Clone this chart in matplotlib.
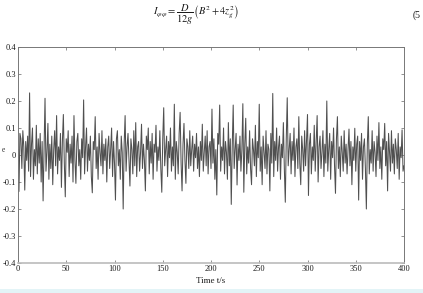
import matplotlib
matplotlib.use("Agg")
import matplotlib.pyplot as plt
import numpy as np

plt.rcParams['font.family'] = ['Liberation Serif', 'DejaVu Serif']
plt.rcParams['mathtext.fontset'] = 'stix'
plt.rcParams['axes.unicode_minus'] = False

# time in seconds, 1 s step
time_s = list(range(0, 401))
response = [
    0.02, -0.135, 0.08, 0.06, -0.05, 0.09, 0.03, -0.13, 0.05, -0.02,
    0.07, -0.06, 0.23, -0.08, 0.04, 0.10, -0.09, 0.02, -0.04, 0.11,
    -0.07, 0.06, -0.03, 0.08, -0.10, 0.05, -0.17, 0.03, 0.21, -0.06,
    0.01, 0.117, -0.09, 0.04, -0.05, 0.07, -0.11, 0.02, 0.09, -0.04,
    0.146, -0.07, 0.03, -0.02, 0.08, -0.12, 0.05, 0.15, -0.03, -0.155,
    0.06, 0.01, 0.09, -0.08, 0.04, -0.03, 0.07, -0.10, 0.146, -0.02,
    -0.105, 0.05, 0.08, -0.04, 0.02, -0.09, 0.06, -0.01, 0.204, -0.07,
    0.03, 0.10, -0.06, 0.04, -0.02, 0.07, -0.08, -0.14, 0.05, 0.02,
    0.142, -0.05, 0.03, -0.09, 0.08, 0.01, -0.04, 0.09, -0.07, 0.04,
    -0.02, 0.06, -0.10, 0.03, 0.07, -0.05, 0.02, 0.10, -0.08, 0.05,
    -0.03, -0.167, 0.06, 0.09, -0.04, 0.02, -0.09, 0.07, 0.01, -0.20,
    0.04, 0.146, -0.06, 0.03, 0.08, -0.02, -0.115, 0.06, 0.02, -0.07,
    0.09, -0.04, 0.12, -0.08, 0.03, 0.05, -0.06, 0.01, 0.114, -0.05,
    0.04, -0.02, -0.133, 0.07, 0.02, 0.10, -0.07, 0.05, -0.03, 0.08,
    -0.09, 0.04, 0.01, 0.11, -0.06, 0.03, -0.02, 0.09, -0.05, -0.138,
    0.06, 0.175, -0.04, 0.02, 0.07, -0.08, 0.05, -0.01, 0.10, -0.06,
    0.03, -0.04, 0.188, -0.09, 0.05, 0.01, -0.07, 0.08, 0.158, -0.03,
    -0.133, 0.04, 0.117, -0.02, -0.105, 0.06, 0.03, -0.05, 0.09, -0.04,
    0.02, 0.07, -0.06, 0.04, -0.01, 0.08, -0.05, 0.03, -0.08, 0.05,
    -0.02, 0.114, -0.06, 0.01, 0.07, -0.04, 0.09, -0.07, 0.03, 0.05,
    -0.05, 0.17, -0.03, 0.06, -0.09, 0.02, -0.148, 0.08, 0.04, 0.185,
    -0.06, 0.03, -0.02, 0.10, -0.07, 0.05, 0.01, -0.09, 0.12, -0.04,
    0.06, -0.183, 0.03, 0.185, -0.05, 0.02, 0.08, -0.111, 0.04, -0.02,
    0.07, -0.06, 0.02, 0.19, -0.138, 0.04, 0.136, -0.07, 0.03, -0.03,
    0.09, -0.05, -0.11, 0.06, 0.02, -0.04, 0.11, -0.08, 0.05, -0.01,
    0.188, -0.06, 0.03, -0.11, 0.07, 0.01, -0.05, 0.09, -0.07, 0.04,
    0.02, -0.133, 0.08, -0.03, 0.228, -0.08, 0.05, -0.02, 0.10, -0.06,
    0.03, 0.07, -0.09, 0.04, -0.01, 0.12, -0.05, -0.175, 0.06, 0.212,
    -0.04, 0.02, 0.08, -0.07, 0.05, -0.02, 0.10, -0.08, 0.03, 0.06,
    -0.05, 0.142, -0.03, -0.11, 0.07, 0.02, -0.06, 0.09, -0.04, 0.05,
    0.15, -0.15, 0.04, 0.08, -0.07, 0.03, -0.02, 0.11, -0.06, 0.05,
    0.146, -0.10, 0.03, 0.07, -0.05, 0.01, 0.09, -0.08, 0.04, -0.03,
    0.20, -0.06, 0.02, 0.08, -0.09, 0.05, -0.01, 0.10, -0.04, -0.142,
    0.06, 0.142, -0.05, 0.03, -0.08, 0.07, 0.01, -0.06, 0.09, -0.03,
    0.04, -0.07, 0.02, 0.096, -0.04, 0.05, -0.11, 0.03, -0.02, 0.099,
    -0.06, 0.04, 0.07, -0.167, 0.05, -0.02, 0.08, -0.09, 0.03, 0.06,
    -0.05, -0.20, 0.04, 0.142, -0.07, 0.02, -0.03, 0.09, -0.06, 0.05,
    0.01, -0.08, 0.07, -0.02, 0.12, -0.05, 0.03, -0.09, 0.06, 0.02,
    0.117, -0.04, 0.05, -0.133, 0.08, 0.01, -0.06, 0.09, -0.03, 0.04,
    -0.07, 0.06, 0.02, -0.05, 0.08, -0.09, 0.03, -0.01, 0.093, -0.06,
    -0.04,
]
x_ticks = [0, 50, 100, 150, 200, 250, 300, 350, 400]
y_ticks = [-0.4, -0.3, -0.2, -0.1, 0, 0.1, 0.2, 0.3, 0.4]
y_tick_labels = ['-0.4', '-0.3', '-0.2', '-0.1', '0', '0.1', '0.2', '0.3', '0.4']
x_label = 'Time t/s'

fig = plt.figure(figsize=(4.23, 2.93), dpi=100)
ax = fig.add_axes([18/423, 30/293, (404-18)/423, (263-47)/293])
ax.plot(time_s, response, color='#505050', lw=0.75)
ax.set_xlim(0, 400)
ax.set_ylim(-0.4, 0.4)
ax.set_xticks(x_ticks)
ax.set_xticklabels([str(v) for v in x_ticks])
ax.set_yticks(y_ticks)
ax.set_yticklabels(y_tick_labels)
ax.tick_params(direction='in', length=2.5, width=0.5, labelsize=6, pad=1.5,
               top=True, right=True, colors='#666666', labelcolor='#1a1a1a')
for s in ax.spines.values():
    s.set_color('#777777')
    s.set_linewidth(0.7)
ax.spines['bottom'].set_color('#bbbbbb')
ax.spines['bottom'].set_linewidth(1.2)
ax.set_xlabel(x_label, fontsize=6.5, labelpad=2.5, color='#1a1a1a')

fig.text(2/423, 1-150/293, 'e', fontsize=5.5, ha='left', va='center', color='#333333')

fig.text(196/423, 1-15/293,
         r'$I_{\varphi\varphi} = \dfrac{D}{12g}\left(B^2 + 4z_g^2\right)$',
         fontsize=7.5, ha='center', va='center', color='#1a1a1a')
fig.text(421/423, 1-15/293, '(5', fontsize=7, ha='right', va='center', color='#1a1a1a')

fig.patches.append(plt.Rectangle((0, 0), 1, 4/293, transform=fig.transFigure,
                                 facecolor='#e3f4f7', edgecolor='none'))

fig.savefig('out.png', dpi=100)
